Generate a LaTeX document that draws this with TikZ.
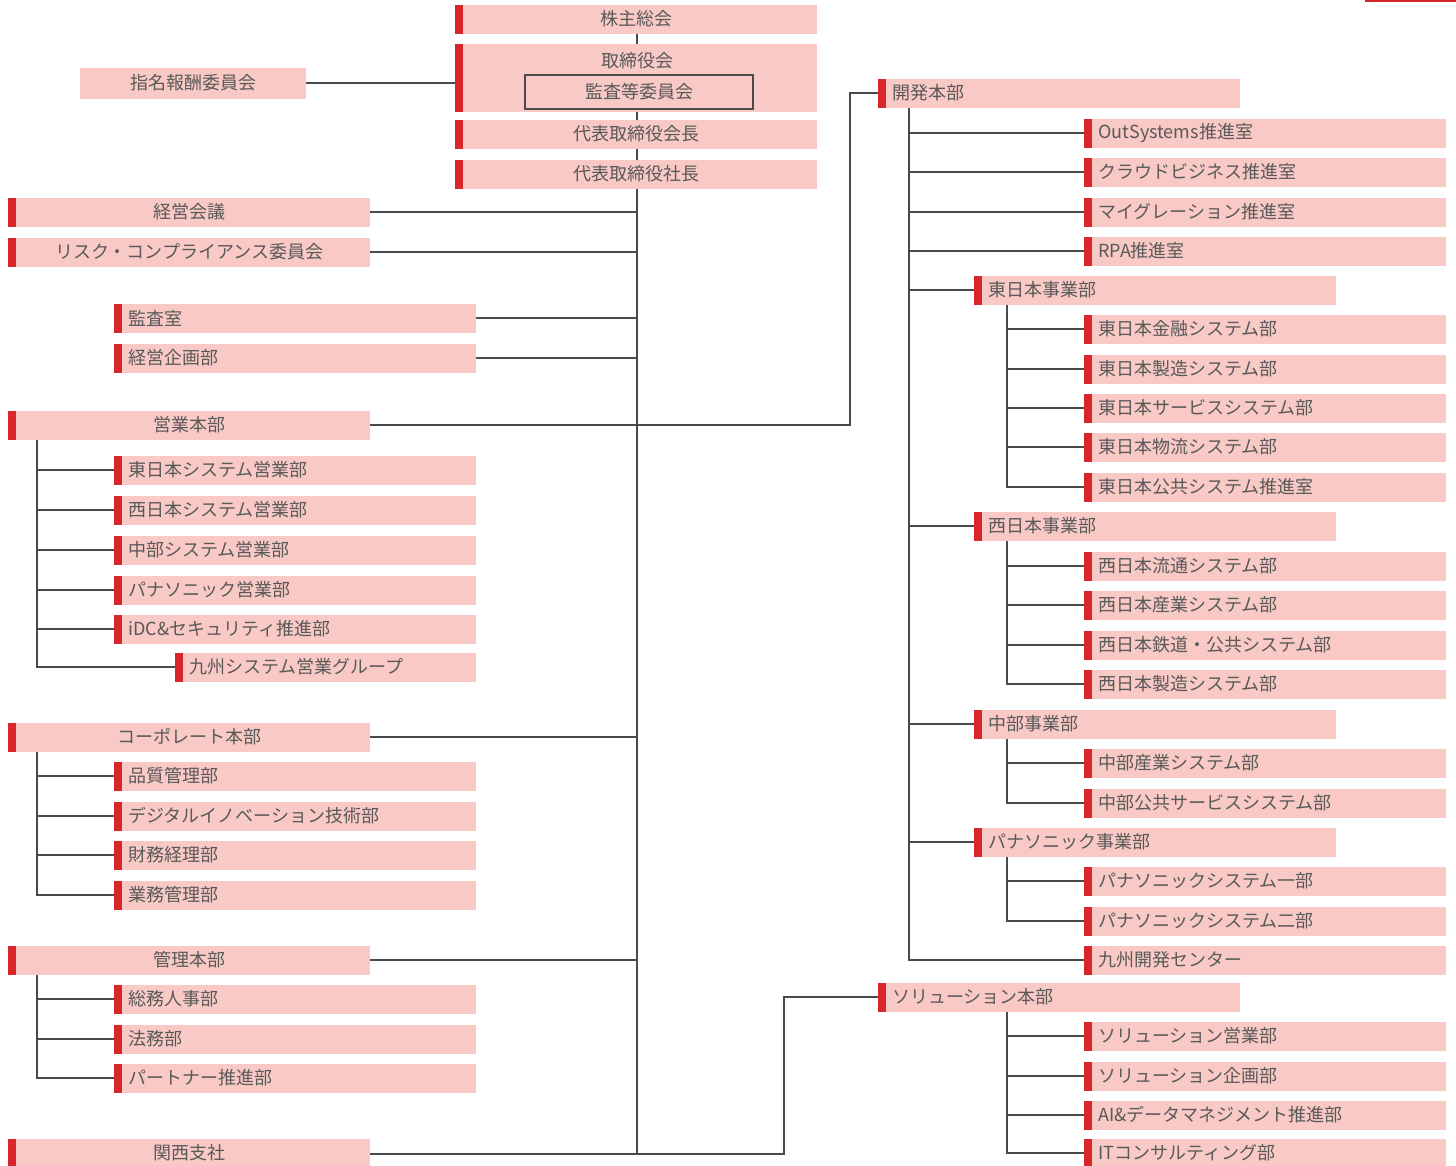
\documentclass[tikz,border=0pt]{standalone}
\usepackage{fontspec}
\setmainfont{Noto Sans CJK JP}
\usetikzlibrary{backgrounds}
\definecolor{pinkbox}{HTML}{F8C9C5}
\definecolor{redbar}{HTML}{D9262B}
\definecolor{txt}{HTML}{595959}
\definecolor{ln}{HTML}{4A4A4A}
\tikzset{
  boxbase/.style={rectangle, fill=pinkbox, inner ysep=0pt, minimum height=29pt,
    font=\fontsize{18}{18}\selectfont, text=txt, anchor=west,
    path picture={\fill[redbar] (path picture bounding box.north west) rectangle ([xshift=8pt]path picture bounding box.south west);}},
  lw/.style={boxbase, inner xsep=14pt, text width=334pt, align=left},
  cw/.style={boxbase, inner xsep=14pt, text width=334pt, align=center},
  lk/.style={boxbase, inner xsep=14pt, text width=273pt, align=left},
  conn/.style={draw=ln, line width=1.2pt},
  lbl/.style={font=\fontsize{18}{18}\selectfont, text=txt, inner sep=0pt}
}
\begin{document}
\begin{tikzpicture}[x=1pt,y=-1pt]
\useasboundingbox (0,0) rectangle (1456,1165);
\fill[redbar] (1365,0) rectangle (1456,2);
% guide coordinates
\coordinate (tr) at (637,0);
\coordinate (sx) at (37,0);
\coordinate (dv) at (850,0);
\coordinate (dx) at (909,0);
\coordinate (ex) at (1007,0);
\coordinate (sv) at (784,0);
% top column
\node[cw] (gm) at (455,19) {株主総会};
\node[boxbase, minimum width=362pt, minimum height=68pt, inner sep=0pt] (bd) at (455,78) {};
\node[lbl] (bdt) at (637,61) {取締役会};
\node[rectangle, draw=ln, line width=1.2pt, minimum width=228pt, minimum height=34pt, inner sep=0pt, lbl] (ac) at (639,92) {監査等委員会};
\node[cw] (ch) at (455,134) {代表取締役会長};
\node[cw] (pr) at (455,174) {代表取締役社長};
\node[rectangle, fill=pinkbox, minimum width=226pt, minimum height=31pt, inner sep=0pt, lbl] (nm) at (193,83) {指名報酬委員会};
% left column
\node[cw] (a1) at (8,212) {経営会議};
\node[cw] (a2) at (8,252) {リスク・コンプライアンス委員会};
\node[lw] (a3) at (114,318) {監査室};
\node[lw] (a4) at (114,358) {経営企画部};
\node[cw] (s0) at (8,425) {営業本部};
\node[lw] (s1) at (114,470) {東日本システム営業部};
\node[lw] (s2) at (114,510) {西日本システム営業部};
\node[lw] (s3) at (114,550) {中部システム営業部};
\node[lw] (s4) at (114,590) {パナソニック営業部};
\node[lw] (s5) at (114,629) {iDC\&セキュリティ推進部};
\node[lk] (s6) at (175,667) {九州システム営業グループ};
\node[cw] (c0) at (8,737) {コーポレート本部};
\node[lw] (c1) at (114,776) {品質管理部};
\node[lw] (c2) at (114,816) {デジタルイノベーション技術部};
\node[lw] (c3) at (114,855) {財務経理部};
\node[lw] (c4) at (114,895) {業務管理部};
\node[cw] (k0) at (8,960) {管理本部};
\node[lw] (k1) at (114,999) {総務人事部};
\node[lw] (k2) at (114,1039) {法務部};
\node[lw] (k3) at (114,1078) {パートナー推進部};
\node[cw] (w0) at (8,1153) {関西支社};
% right column
\node[lw] (d0) at (878,93) {開発本部};
\node[lw] (d1) at (1084,133) {OutSystems推進室};
\node[lw] (d2) at (1084,172) {クラウドビジネス推進室};
\node[lw] (d3) at (1084,212) {マイグレーション推進室};
\node[lw] (d4) at (1084,251) {RPA推進室};
\node[lw] (e0) at (974,290) {東日本事業部};
\node[lw] (e1) at (1084,329) {東日本金融システム部};
\node[lw] (e2) at (1084,369) {東日本製造システム部};
\node[lw] (e3) at (1084,408) {東日本サービスシステム部};
\node[lw] (e4) at (1084,447) {東日本物流システム部};
\node[lw] (e5) at (1084,487) {東日本公共システム推進室};
\node[lw] (f0) at (974,526) {西日本事業部};
\node[lw] (f1) at (1084,566) {西日本流通システム部};
\node[lw] (f2) at (1084,605) {西日本産業システム部};
\node[lw] (f3) at (1084,645) {西日本鉄道・公共システム部};
\node[lw] (f4) at (1084,684) {西日本製造システム部};
\node[lw] (m0) at (974,724) {中部事業部};
\node[lw] (m1) at (1084,763) {中部産業システム部};
\node[lw] (m2) at (1084,803) {中部公共サービスシステム部};
\node[lw] (p0) at (974,842) {パナソニック事業部};
\node[lw] (p1) at (1084,881) {パナソニックシステム一部};
\node[lw] (p2) at (1084,921) {パナソニックシステム二部};
\node[lw] (q0) at (1084,960) {九州開発センター};
\node[lw] (r0) at (878,997) {ソリューション本部};
\node[lw] (r1) at (1084,1036) {ソリューション営業部};
\node[lw] (r2) at (1084,1076) {ソリューション企画部};
\node[lw] (r3) at (1084,1115) {AI\&データマネジメント推進部};
\node[lw] (r4) at (1084,1153) {ITコンサルティング部};
% connectors
\begin{scope}[on background layer]
\coordinate (tend) at (637,1154);
\draw[conn] (gm.south -| tr) -- (tend);
\draw[conn] (nm.east) -- (nm.east -| bd.west);
\foreach \n in {a1,a2,a3,a4,c0,k0}{\draw[conn] (\n.east) -- (\n.east -| tr);}
\draw[conn] (w0.east |- tend) -- (tend) -- (tend -| sv) |- (r0.west);
\draw[conn] (s0.east) -- (s0.east -| dv) |- (d0.west);
\draw[conn] (s0.south -| sx) |- (s6.west);
\foreach \n in {s1,s2,s3,s4,s5}{\draw[conn] (\n.west -| sx) -- (\n.west);}
\draw[conn] (c0.south -| sx) |- (c4.west);
\foreach \n in {c1,c2,c3}{\draw[conn] (\n.west -| sx) -- (\n.west);}
\draw[conn] (k0.south -| sx) |- (k3.west);
\foreach \n in {k1,k2}{\draw[conn] (\n.west -| sx) -- (\n.west);}
\draw[conn] (d0.south -| dx) |- (q0.west);
\foreach \n in {d1,d2,d3,d4,e0,f0,m0,p0}{\draw[conn] (\n.west -| dx) -- (\n.west);}
\draw[conn] (e0.south -| ex) |- (e5.west);
\foreach \n in {e1,e2,e3,e4}{\draw[conn] (\n.west -| ex) -- (\n.west);}
\draw[conn] (f0.south -| ex) |- (f4.west);
\foreach \n in {f1,f2,f3}{\draw[conn] (\n.west -| ex) -- (\n.west);}
\draw[conn] (m0.south -| ex) |- (m2.west);
\draw[conn] (m1.west -| ex) -- (m1.west);
\draw[conn] (p0.south -| ex) |- (p2.west);
\draw[conn] (p1.west -| ex) -- (p1.west);
\draw[conn] (r0.south -| ex) |- (r4.west);
\foreach \n in {r1,r2,r3}{\draw[conn] (\n.west -| ex) -- (\n.west);}
\end{scope}
\end{tikzpicture}
\end{document}
